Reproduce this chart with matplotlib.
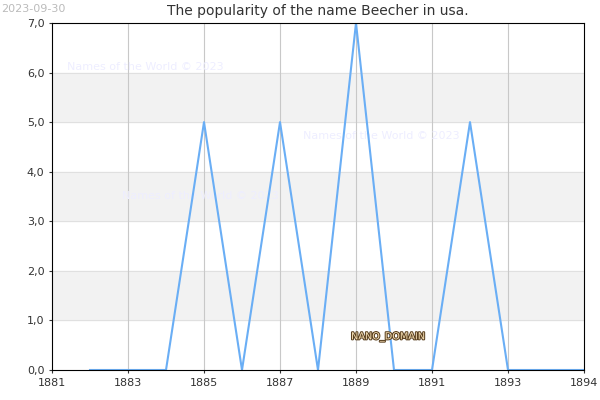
import matplotlib
matplotlib.use("Agg")
import matplotlib.pyplot as plt
import matplotlib.patheffects as pe

years = [1882,1883,1884,1885,1886,1887,1888,1889,1890,1891,1892,1893,1894,1895]
counts = [0,0,0,5,0,5,0,7,0,0,5,0,0,0]
xtick_pos = [1881,1883,1885,1887,1889,1891,1893,1895]
xtick_labels = ["1881","1883","1885","1887","1889","1891","1893","1894"]

fig = plt.figure(figsize=(6,4), dpi=100)
ax = fig.add_axes([52/600, 30/400, 532/600, 347/400])
for lo in (1,3,5):
    ax.axhspan(lo, lo+1, color='#f2f2f2', zorder=0)
for y in range(1,7):
    ax.axhline(y, color='#e0e0e0', lw=0.8, zorder=0.5)
for x in xtick_pos[1:-1]:
    ax.axvline(x, color='#c8c8c8', lw=0.8, zorder=0.5)
ax.plot(years, counts, color='#6aaef5', lw=1.5, zorder=2)
ax.set_xlim(1881, 1895)
ax.set_ylim(0, 7)
ax.set_xticks(xtick_pos)
ax.set_xticklabels(xtick_labels)
ax.set_yticks(range(8))
ax.set_yticklabels([f"{v},0" for v in range(8)])
ax.tick_params(labelsize=8, colors='#333333', length=2)
for s in ax.spines.values():
    s.set_color('black')
ax.set_title("The popularity of the name Beecher in usa.", fontsize=10, color='#333333', pad=6)
fig.text(0.002, 0.99, "2023-09-30", fontsize=8, color='#bbbbbb', va='top')
for (x, y) in [(1881.4, 6.05), (1887.6, 4.65), (1882.85, 3.45)]:
    ax.text(x, y, "Names of the World © 2023", fontsize=8, color='#eeeeff', zorder=1)
ax.text(1889.85, 0.67, "NANO_DOMAIN", fontsize=7, color='#f5deb3', ha='center', va='center', zorder=3,
        path_effects=[pe.withStroke(linewidth=1.5, foreground='#5a4020')])
fig.savefig("out.png", dpi=100)
